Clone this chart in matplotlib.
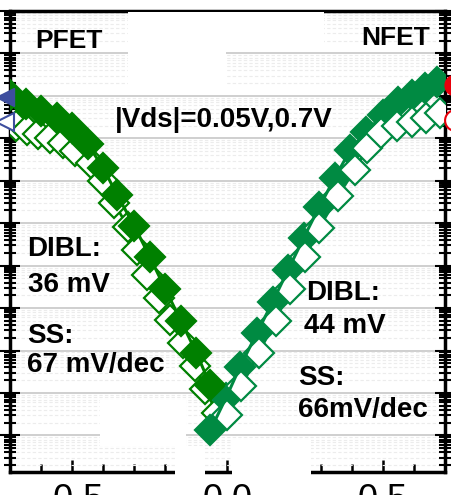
import numpy as np
import matplotlib
matplotlib.use('Agg')
import matplotlib.pyplot as plt
from matplotlib.ticker import LogLocator, NullFormatter, MultipleLocator
from matplotlib.patches import Rectangle

plt.rcParams['font.family'] = ['Liberation Sans', 'DejaVu Sans']

# PFET, |Vds| = 0.7 V (filled) and 0.05 V (hollow)
p_hi_vg = [-0.70, -0.65, -0.60, -0.55, -0.50, -0.45, -0.40, -0.355, -0.30,
           -0.25, -0.20, -0.15, -0.10, -0.055]
p_hi_id = [1.05e-4, 6.4e-5, 4.4e-5, 3.0e-5, 1.75e-5, 7.3e-6, 2.0e-6, 4.6e-7,
           8.6e-8, 1.6e-8, 2.8e-9, 5.0e-10, 8.8e-11, 1.5e-11]
p_lo_vg = [-0.68, -0.645, -0.61, -0.57, -0.53, -0.49, -0.44, -0.40, -0.365,
           -0.32, -0.29, -0.26, -0.22, -0.185, -0.143, -0.105, -0.072, -0.034]
p_lo_id = [1.95e-5, 1.57e-5, 1.26e-5, 1.02e-5, 7.8e-6, 5.0e-6, 2.6e-6, 9.9e-7,
           3.0e-7, 8.1e-8, 2.3e-8, 6.0e-9, 1.7e-9, 5.2e-10, 1.5e-10, 4.3e-11,
           1.24e-11, 3.4e-12]

# NFET
n_hi_vg = [-0.055, -0.005, 0.04, 0.095, 0.145, 0.195, 0.245, 0.295, 0.345,
           0.395, 0.445, 0.50, 0.55, 0.595, 0.635, 0.675]
n_hi_id = [1.34e-12, 7.6e-12, 4.1e-11, 2.6e-10, 1.39e-9, 7.9e-9, 4.5e-8,
           2.4e-7, 1.16e-6, 5.3e-6, 1.41e-5, 3.5e-5, 7.2e-5, 1.05e-4, 1.53e-4,
           2.1e-4]
n_lo_vg = [0.0, 0.045, 0.10, 0.155, 0.20, 0.25, 0.295, 0.355, 0.41, 0.45,
           0.495, 0.545, 0.595, 0.64, 0.685]
n_lo_id = [3.0e-12, 1.46e-11, 8.8e-11, 5.0e-10, 2.8e-9, 1.6e-8, 7.7e-8,
           4.4e-7, 1.8e-6, 5.9e-6, 1.33e-5, 1.95e-5, 2.4e-5, 3.0e-5, 4.0e-5]

# other series, only their edges are left in the crop
edge_blue_vg = [-0.715, -0.715]
edge_blue_id = [9.4e-5, 2.4e-5]
edge_red_vg = [0.731, 0.731]
edge_red_id = [1.8e-4, 2.7e-5]

xtick_vals = [-0.5, 0.0, 0.5]
xtick_labels = ['-0.5', '0.0', '0.5']

W, H = 452, 495
pcol = '#008000'
ncol = '#008a42'

fig = plt.figure(figsize=(W / 100, H / 100), dpi=100)
ax = fig.add_axes([10 / W, 1 - 472 / H, 435 / W, 461 / H])
ax.set_yscale('log')
ax.set_xlim(-0.7, 0.7)
ax.set_ylim(10 ** (-2 - 461 / 42.44), 1e-2)

ax.yaxis.set_major_locator(LogLocator(base=10, numticks=30))
ax.yaxis.set_minor_locator(LogLocator(base=10, subs=np.arange(2, 10), numticks=200))
ax.yaxis.set_major_formatter(NullFormatter())
ax.yaxis.set_minor_formatter(NullFormatter())
ax.xaxis.set_minor_locator(MultipleLocator(0.1))
ax.set_xticks(xtick_vals)
ax.set_xticklabels(xtick_labels, fontsize=26)

ax.grid(which='major', axis='y', color='#cccccc', lw=1.3)
ax.grid(which='minor', axis='y', color='#ececec', lw=0.8, ls=(0, (3, 2)))
ax.grid(which='both', axis='x', visible=False)

for s in ax.spines.values():
    s.set_linewidth(2.5)
ax.tick_params(axis='y', which='both', direction='inout', left=True, right=True,
               width=1.5)
ax.tick_params(axis='y', which='major', length=14)
ax.tick_params(axis='y', which='minor', length=8)
ax.tick_params(axis='x', which='both', direction='in', top=False, width=1.8, pad=8)
ax.tick_params(axis='x', which='major', length=9)
ax.tick_params(axis='x', which='minor', length=6)

mk = dict(marker='D', ms=15, mew=1.6)
# PFET: hollow below filled; NFET: filled below hollow
ax.plot(p_lo_vg, p_lo_id, color=pcol, lw=2, mfc='white', mec=pcol, zorder=3, **mk)
ax.plot(p_hi_vg, p_hi_id, color=pcol, lw=2.2, mfc=pcol, mec=pcol, zorder=4, **mk)
ax.plot(n_hi_vg, n_hi_id, color=ncol, lw=0, mfc=ncol, mec=ncol, zorder=3, **mk)
ax.plot(n_lo_vg, n_lo_id, color=ncol, lw=2, mfc='white', mec=ncol, zorder=4, **mk)
ax.plot(n_hi_vg, n_hi_id, color=ncol, lw=2.2, zorder=5)

ax.plot(edge_blue_vg[:1], edge_blue_id[:1], ls='none', marker='<', ms=13,
        color='#3d4e9e', clip_on=False, zorder=6)
ax.plot(edge_blue_vg[1:], edge_blue_id[1:], ls='none', marker='<', ms=13,
        mfc='white', mec='#3d4e9e', mew=1.5, clip_on=False, zorder=6)
ax.plot(edge_red_vg[:1], edge_red_id[:1], ls='none', marker='o', ms=15,
        color='#e8000b', clip_on=False, zorder=6)
ax.plot(edge_red_vg[1:], edge_red_id[1:], ls='none', marker='o', ms=15,
        mfc='white', mec='#e8000b', mew=1.5, clip_on=False, zorder=6)


def px(x, y):
    return x / W, 1 - y / H


# white patches that hide parts of the original figure
for x0, y0, x1, y1 in [(128, 12, 226, 92), (226, 12, 324, 50),
                       (100, 400, 186, 446), (175, 446, 205, 482),
                       (232, 440, 311, 482)]:
    ax.add_patch(Rectangle(px(x0, y1), (x1 - x0) / W, (y1 - y0) / H,
                           transform=fig.transFigure, facecolor='white',
                           edgecolor='none', clip_on=False, zorder=2.6))

tk = dict(fontweight='bold', va='baseline', zorder=7)
fig.text(*px(35, 48), 'PFET', fontsize=19, **tk)
fig.text(*px(430, 45), 'NFET', fontsize=19, ha='right', **tk)
fig.text(*px(115, 127), '|Vds|=0.05V,0.7V', fontsize=20, **tk)
fig.text(*px(27, 256), 'DIBL:', fontsize=20, **tk)
fig.text(*px(28, 292), '36 mV', fontsize=20, **tk)
fig.text(*px(27, 343), 'SS:', fontsize=20, **tk)
fig.text(*px(27, 372), '67 mV/dec', fontsize=20, **tk)
fig.text(*px(306, 300), 'DIBL:', fontsize=20, **tk)
fig.text(*px(304, 333), '44 mV', fontsize=20, **tk)
fig.text(*px(298, 385), 'SS:', fontsize=20, **tk)
fig.text(*px(298, 417), '66mV/dec', fontsize=20, **tk)

fig.savefig('out.png', dpi=100)
